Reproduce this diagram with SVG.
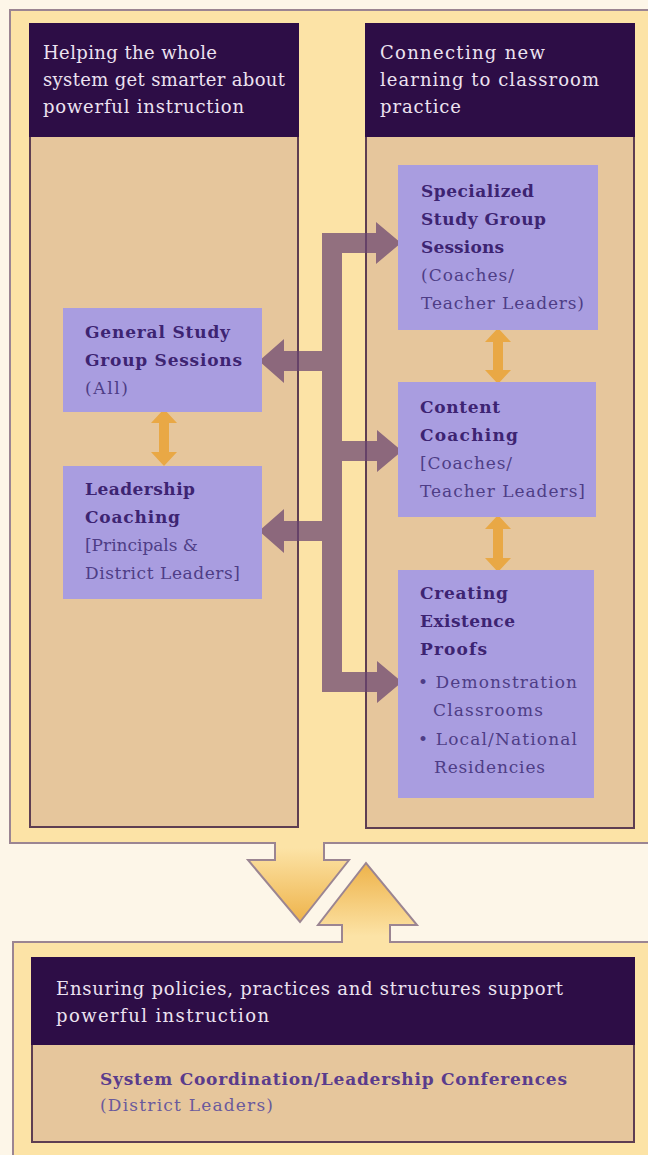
<svg xmlns="http://www.w3.org/2000/svg" width="648" height="1155" viewBox="0 0 648 1155">
<style>
.frame{stroke:#9b8592;stroke-width:2;stroke-linejoin:miter}
.body{fill:#e6c69c;stroke:#5e3e52;stroke-width:2}
.hdr{fill:#2d0d46}
.node{fill:#a99de0}
.dbl{fill:#e9a845}
text{font-family:"DejaVu Serif",serif}
.th{font-size:18px;fill:#ece2f0}
.tb{font-size:17px;font-weight:bold;fill:#3d2472}
.tn{font-size:17px;fill:#4e3d86}
.sb{font-size:17px;font-weight:bold;fill:#5a3c8c}
.sn{font-size:17px;fill:#6a5a9c}
</style>
<defs>
<linearGradient id="gDown" gradientUnits="userSpaceOnUse" x1="0" y1="848" x2="0" y2="918">
<stop offset="0" stop-color="#fce3a6"/><stop offset="1" stop-color="#efb650"/>
</linearGradient>
<linearGradient id="gUp" gradientUnits="userSpaceOnUse" x1="0" y1="936" x2="0" y2="868">
<stop offset="0" stop-color="#fce3a6"/><stop offset="1" stop-color="#efb650"/>
</linearGradient>
</defs>
<rect x="0" y="0" width="648" height="1155" fill="#fdf6e8"/>
<g id="top-frame">
<path class="frame" fill="url(#gDown)" d="M652,10 L10,10 L10,843 L275,843 L275,860 L248,860 L300,922 L349,860 L324,860 L324,843 L652,843 Z"/>
</g>
<g id="bottom-frame">
<path class="frame" fill="url(#gUp)" d="M652,942 L390,942 L390,925 L417,925 L366,863 L318,925 L342,925 L342,942 L13,942 L13,1158 L652,1158 Z"/>
</g>
<g id="panel-left">
<rect class="body" x="30" y="24" width="268" height="803"/>
<rect class="hdr" x="29" y="23" width="270" height="114"/>
<text class="th" x="43" y="59" textLength="174" lengthAdjust="spacing">Helping the whole</text>
<text class="th" x="43" y="86" textLength="242" lengthAdjust="spacing">system get smarter about</text>
<text class="th" x="43" y="113" textLength="201" lengthAdjust="spacing">powerful instruction</text>
</g>
<g id="panel-right">
<rect class="body" x="366" y="24" width="268" height="804"/>
<rect class="hdr" x="365" y="23" width="270" height="114"/>
<text class="th" x="380" y="59" textLength="165" lengthAdjust="spacing">Connecting new</text>
<text class="th" x="380" y="86" textLength="219" lengthAdjust="spacing">learning to classroom</text>
<text class="th" x="380" y="113" textLength="81" lengthAdjust="spacing">practice</text>
</g>
<g id="panel-bottom">
<rect class="body" x="32" y="958" width="602" height="184"/>
<rect class="hdr" x="31" y="957" width="604" height="88"/>
<text class="th" x="56" y="995" textLength="507" lengthAdjust="spacing">Ensuring policies, practices and structures support</text>
<text class="th" x="56" y="1022" textLength="213" lengthAdjust="spacing">powerful instruction</text>
<text class="sb" x="100" y="1085" textLength="467" lengthAdjust="spacing">System Coordination/Leadership Conferences</text>
<text class="sn" x="100" y="1111" textLength="173" lengthAdjust="spacing">(District Leaders)</text>
</g>
<g id="connectors">
<path fill="#6a4470" fill-opacity="0.72" d="M322,233 L376,233 L376,222 L401,243 L376,264 L376,253 L342,253 L342,441 L377,441 L377,430 L402,451 L377,472 L377,461 L342,461 L342,672 L377,672 L377,661 L402,682 L377,703 L377,692 L322,692 L322,541 L284,541 L284,553 L259,531 L284,509 L284,521 L322,521 L322,371 L284,371 L284,383 L259,361 L284,339 L284,351 L322,351 Z"/>
<path class="dbl" d="M164,409 L177,423 L169,423 L169,452 L177,452 L164,466 L151,452 L159,452 L159,423 L151,423 Z"/>
<path class="dbl" d="M498,328 L511,342 L503,342 L503,370 L511,370 L498,384 L485,370 L493,370 L493,342 L485,342 Z"/>
<path class="dbl" d="M498,515 L511,529 L503,529 L503,558 L511,558 L498,572 L485,558 L493,558 L493,529 L485,529 Z"/>
</g>
<g id="node-specialized">
<rect class="node" x="398" y="165" width="200" height="165"/>
<text class="tb" x="421" y="197" textLength="113" lengthAdjust="spacing">Specialized</text>
<text class="tb" x="421" y="225" textLength="125" lengthAdjust="spacing">Study Group</text>
<text class="tb" x="421" y="253" textLength="83" lengthAdjust="spacing">Sessions</text>
<text class="tn" x="421" y="281" textLength="93" lengthAdjust="spacing">(Coaches/</text>
<text class="tn" x="421" y="309" textLength="163" lengthAdjust="spacing">Teacher Leaders)</text>
</g>
<g id="node-general">
<rect class="node" x="63" y="308" width="199" height="104"/>
<text class="tb" x="85" y="338" textLength="145" lengthAdjust="spacing">General Study</text>
<text class="tb" x="85" y="366" textLength="157" lengthAdjust="spacing">Group Sessions</text>
<text class="tn" x="85" y="394" textLength="43" lengthAdjust="spacing">(All)</text>
</g>
<g id="node-content">
<rect class="node" x="398" y="382" width="198" height="135"/>
<text class="tb" x="420" y="413" textLength="80" lengthAdjust="spacing">Content</text>
<text class="tb" x="420" y="441" textLength="98" lengthAdjust="spacing">Coaching</text>
<text class="tn" x="420" y="469" textLength="92" lengthAdjust="spacing">[Coaches/</text>
<text class="tn" x="420" y="497" textLength="165" lengthAdjust="spacing">Teacher Leaders]</text>
</g>
<g id="node-leadership">
<rect class="node" x="63" y="466" width="199" height="133"/>
<text class="tb" x="85" y="495" textLength="110" lengthAdjust="spacing">Leadership</text>
<text class="tb" x="85" y="523" textLength="95" lengthAdjust="spacing">Coaching</text>
<text class="tn" x="85" y="551" textLength="113" lengthAdjust="spacing">[Principals &amp;</text>
<text class="tn" x="85" y="579" textLength="155" lengthAdjust="spacing">District Leaders]</text>
</g>
<g id="node-creating">
<rect class="node" x="398" y="570" width="196" height="228"/>
<text class="tb" x="420" y="599" textLength="88" lengthAdjust="spacing">Creating</text>
<text class="tb" x="420" y="627" textLength="95" lengthAdjust="spacing">Existence</text>
<text class="tb" x="420" y="655" textLength="67" lengthAdjust="spacing">Proofs</text>
<text class="tn" x="418" y="688" textLength="159" lengthAdjust="spacing">• Demonstration</text>
<text class="tn" x="433" y="716" textLength="110" lengthAdjust="spacing">Classrooms</text>
<text class="tn" x="418" y="745" textLength="159" lengthAdjust="spacing">• Local/National</text>
<text class="tn" x="434" y="773" textLength="111" lengthAdjust="spacing">Residencies</text>
</g>
</svg>
